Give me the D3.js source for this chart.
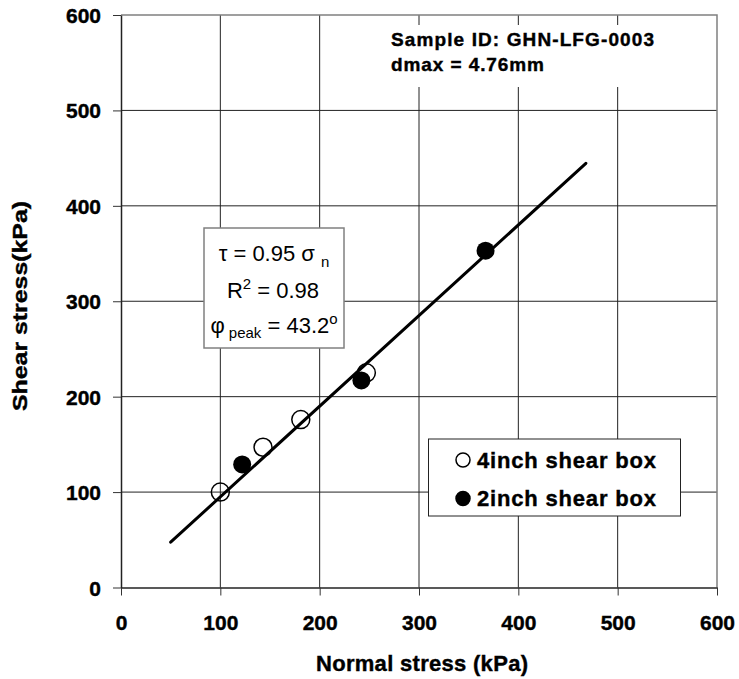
<!DOCTYPE html>
<html>
<head>
<meta charset="utf-8">
<script src="https://cdn.jsdelivr.net/npm/d3@7"></script>
<style>
  body { margin: 0; background: #fff; }
  svg { display: block; }
  text { font-family: Arial, "Liberation Sans", sans-serif; }
</style>
</head>
<body>
<svg id="chart" width="739" height="679"></svg>
<script>
'use strict';

// axis ticks
var xTicks = [0, 100, 200, 300, 400, 500, 600];
var yTicks = [0, 100, 200, 300, 400, 500, 600];

// 4inch shear box (open circles)
var sigma4 = [100, 143, 181, 247];
var tau4 = [100, 147, 176, 225];

// 2inch shear box (filled circles)
var sigma2 = [122, 242, 367];
var tau2 = [129, 217, 353];

// fitted line tau = 0.95 sigma_n, end points
var fitSigma = [50, 468];
var fitTau = [47.5, 444.6];

var legendLabels = ['4inch shear box', '2inch shear box'];

var FONT = 'Arial, "Liberation Sans", sans-serif';

var svg = d3.select('#chart');

var x = d3.scaleLinear().domain([0, 600]).range([121, 717]);
var y = d3.scaleLinear().domain([0, 600]).range([587.5, 15]);

//heavy bold text, like the original
function heavy(sel, size) {
    return sel.attr('font-size', size)
        .attr('font-weight', 'bold')
        .attr('fill', '#000')
        .attr('stroke', '#000')
        .attr('stroke-width', 0.4);
}

//grid lines
var grid = svg.append('g').attr('id', 'grid-group');

grid.selectAll('line.v')
    .data(xTicks.slice(1, -1))
    .enter()
    .append('line')
    .attr('class', 'v')
    .attr('x1', function(d) { return x(d); })
    .attr('x2', function(d) { return x(d); })
    .attr('y1', y(600))
    .attr('y2', y(0))
    .attr('stroke', '#222')
    .attr('stroke-width', 1);

grid.selectAll('line.h')
    .data(yTicks.slice(1, -1))
    .enter()
    .append('line')
    .attr('class', 'h')
    .attr('x1', x(0))
    .attr('x2', x(600))
    .attr('y1', function(d) { return y(d); })
    .attr('y2', function(d) { return y(d); })
    .attr('stroke', '#222')
    .attr('stroke-width', 1);

//top and right border
svg.append('path')
    .attr('d', 'M' + x(0) + ',' + y(600) + 'H' + x(600) + 'V' + y(0))
    .attr('fill', 'none')
    .attr('stroke', '#808080')
    .attr('stroke-width', 1.5);

//axes
var axisX = d3.axisBottom(x)
    .tickValues(xTicks)
    .tickSizeInner(8)
    .tickSizeOuter(0)
    .tickPadding(20);

var axisY = d3.axisLeft(y)
    .tickValues(yTicks)
    .tickSizeInner(8)
    .tickSizeOuter(0)
    .tickPadding(12);

var gx = svg.append('g')
    .attr('id', 'axisX')
    .attr('transform', 'translate(0,' + y(0) + ')')
    .call(axisX);

var gy = svg.append('g')
    .attr('id', 'axisY')
    .attr('transform', 'translate(' + x(0) + ',0)')
    .call(axisY);

[gx, gy].forEach(function(g) {
    g.attr('font-family', FONT);
    g.select('.domain').attr('stroke', '#222').attr('stroke-width', 1.5);
    g.selectAll('.tick line').attr('stroke', '#333').attr('stroke-width', 1);
    heavy(g.selectAll('.tick text'), 21);
});
gx.selectAll('.tick text').attr('dy', '0.71em');
gy.selectAll('.tick text').attr('dy', '0.36em');

//axis titles
heavy(svg.append('text'), 22)
    .attr('x', 422)
    .attr('y', 671)
    .attr('text-anchor', 'middle')
    .attr('textLength', 212)
    .text('Normal stress (kPa)');

heavy(svg.append('text'), 20)
    .attr('transform', 'translate(27,306) rotate(-90)')
    .attr('text-anchor', 'middle')
    .attr('textLength', 210)
    .attr('lengthAdjust', 'spacingAndGlyphs')
    .text('Shear stress(kPa)');

//sample note
svg.append('rect')
    .attr('x', 385).attr('y', 25)
    .attr('width', 305).attr('height', 62)
    .attr('fill', '#fff');

heavy(svg.append('text'), 19)
    .attr('x', 391).attr('y', 46)
    .attr('textLength', 263)
    .text('Sample ID: GHN-LFG-0003');

heavy(svg.append('text'), 19)
    .attr('x', 391).attr('y', 71)
    .attr('textLength', 153)
    .text('dmax = 4.76mm');

//fit line
var line = d3.line()
    .x(function(d) { return x(d[0]); })
    .y(function(d) { return y(d[1]); });

svg.append('path')
    .datum(d3.zip(fitSigma, fitTau))
    .attr('d', line)
    .attr('fill', 'none')
    .attr('stroke', '#000')
    .attr('stroke-width', 3)
    .attr('stroke-linecap', 'round');

//points
svg.append('g').selectAll('circle')
    .data(d3.zip(sigma4, tau4))
    .enter()
    .append('circle')
    .attr('cx', function(d) { return x(d[0]); })
    .attr('cy', function(d) { return y(d[1]); })
    .attr('r', 9)
    .attr('fill', 'none')
    .attr('stroke', '#000')
    .attr('stroke-width', 1.5);

svg.append('g').selectAll('circle')
    .data(d3.zip(sigma2, tau2))
    .enter()
    .append('circle')
    .attr('cx', function(d) { return x(d[0]); })
    .attr('cy', function(d) { return y(d[1]); })
    .attr('r', 9)
    .attr('fill', '#000');

//equation box
var eq = svg.append('g').attr('id', 'equation');
eq.append('rect')
    .attr('x', 204).attr('y', 228)
    .attr('width', 140).attr('height', 120)
    .attr('fill', '#fff')
    .attr('stroke', '#808080')
    .attr('stroke-width', 1.5);

var t1 = eq.append('text')
    .attr('x', 274).attr('y', 261)
    .attr('text-anchor', 'middle')
    .attr('font-size', 22);
t1.append('tspan').text('\u03c4 = 0.95 \u03c3 ');
t1.append('tspan').attr('dy', 6).attr('font-size', 15).text('n');

var t2 = eq.append('text')
    .attr('x', 273).attr('y', 298)
    .attr('text-anchor', 'middle')
    .attr('font-size', 22);
t2.append('tspan').text('R');
t2.append('tspan').attr('dy', -9).attr('font-size', 15).text('2');
t2.append('tspan').attr('dy', 9).text(' = 0.98');

var t3 = eq.append('text')
    .attr('x', 274).attr('y', 333)
    .attr('text-anchor', 'middle')
    .attr('font-size', 22);
t3.append('tspan').text('\u03c6');
t3.append('tspan').attr('dy', 5).attr('font-size', 15).text(' peak');
t3.append('tspan').attr('dy', -5).text(' = 43.2');
t3.append('tspan').attr('dy', -9).attr('font-size', 15).text('o');

//legend
var legend = svg.append('g').attr('id', 'legend');
legend.append('rect')
    .attr('x', 428.5).attr('y', 439)
    .attr('width', 252).attr('height', 77)
    .attr('fill', '#fff')
    .attr('stroke', '#222')
    .attr('stroke-width', 1);

legendLabels.forEach(function(label, i) {
    var cy = 460 + i * 38.5;
    legend.append('circle')
        .attr('cx', 463).attr('cy', cy)
        .attr('r', 7)
        .attr('fill', i === 0 ? '#fff' : '#000')
        .attr('stroke', '#000')
        .attr('stroke-width', 1.5);
    heavy(legend.append('text'), 22)
        .attr('x', 477).attr('y', cy + 7.5)
        .attr('textLength', 179)
        .text(label);
});
</script>
</body>
</html>
